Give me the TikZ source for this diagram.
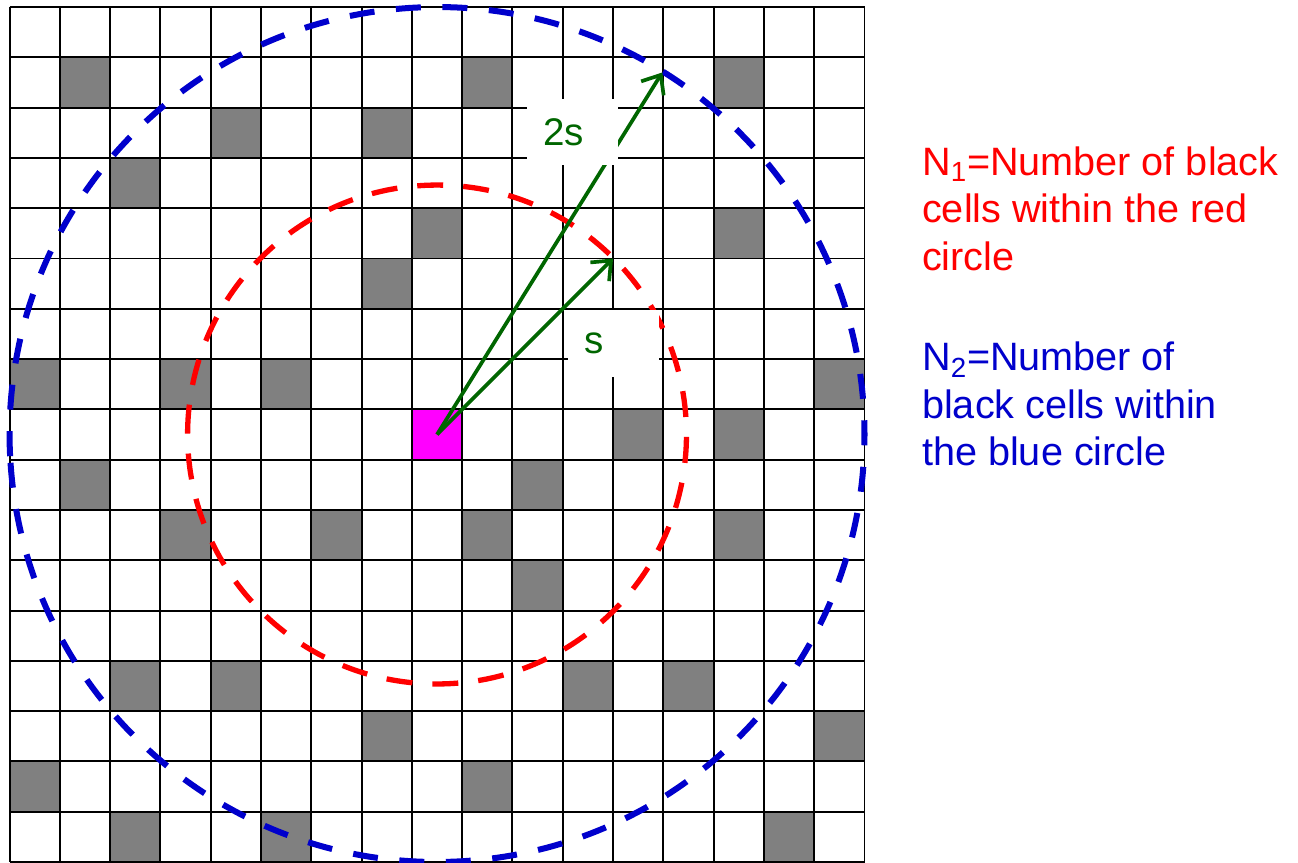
\documentclass[tikz,border=0pt]{standalone}
\usepackage{fontspec}
\setmainfont{Liberation Sans}
\definecolor{cellgray}{RGB}{128,128,128}
\definecolor{arrowgreen}{RGB}{0,102,0}
\definecolor{ringred}{RGB}{255,0,0}
\definecolor{ringblue}{RGB}{0,0,204}
\definecolor{centremag}{RGB}{255,0,255}
\usetikzlibrary{arrows.meta}

\begin{document}
\begin{tikzpicture}[
    cell/.style={fill=cellgray},
    vec/.style={line width=2.1pt, arrowgreen, -{Straight Barb[length=9pt,width=15pt]}},
    lbl/.style={fill=white, text=arrowgreen, font=\fontsize{21.8}{26}\selectfont, inner xsep=0.32cm, inner ysep=0pt, text width=1.17cm, align=left, minimum height=1.32cm, anchor=north west},
    note/.style={font=\fontsize{22.4}{26.9}\selectfont, align=left, inner sep=0pt, anchor=base west},
]
    \useasboundingbox (-0.19,-0.02) rectangle (25.62,17.14);
    \fill[white] (-0.19,-0.02) rectangle (25.62,17.14);
    \foreach \c/\r in {1/1,9/1,14/1,4/2,7/2,2/3,8/4,14/4,7/5,0/7,3/7,5/7,16/7,12/8,14/8,1/9,10/9,
        3/10,6/10,9/10,14/10,10/11,2/13,4/13,11/13,13/13,7/14,16/14,0/15,9/15,2/16,5/16,15/16}
        \fill[cell] (\c,16-\r) rectangle ++(1,1);
    \fill[centremag] (8,8) rectangle (9,9);
    \draw[line width=1.1pt] (0,0) grid (17,17);

    \coordinate (ctr) at (8.5,8.5);
    \coordinate (tipone) at (12,12);
    \coordinate (tiptwo) at (12.98,15.70);
    \draw[ringred, line width=3pt, dash pattern=on 0.517cm off 0.398cm]
        (ctr) ++(179.1:4.96) arc[start angle=179.1, end angle=-180.9, radius=4.96];
    \draw[ringblue, line width=3.4pt, dash pattern=on 0.497cm off 0.429cm]
        (ctr) ++(183.8:8.5) arc[start angle=183.8, end angle=543.8, radius=8.5];
    \draw[vec] (ctr) -- (tipone);
    \draw[vec] (ctr) -- (tiptwo);
    \node[lbl] (lbltwo) at (10.29,15.18) {2s};
    \node[lbl] (lblone) at (11.10,10.98) {s};

    \node[note, text=ringred] (nred) at (18.14,11.761) {N\textsubscript{1}=Number of black\\cells within the red\\circle};
    \node[note, text=ringblue] (nblue) at (18.14,7.876) {N\textsubscript{2}=Number of\\black cells within\\the blue circle};
\end{tikzpicture}
\end{document}
